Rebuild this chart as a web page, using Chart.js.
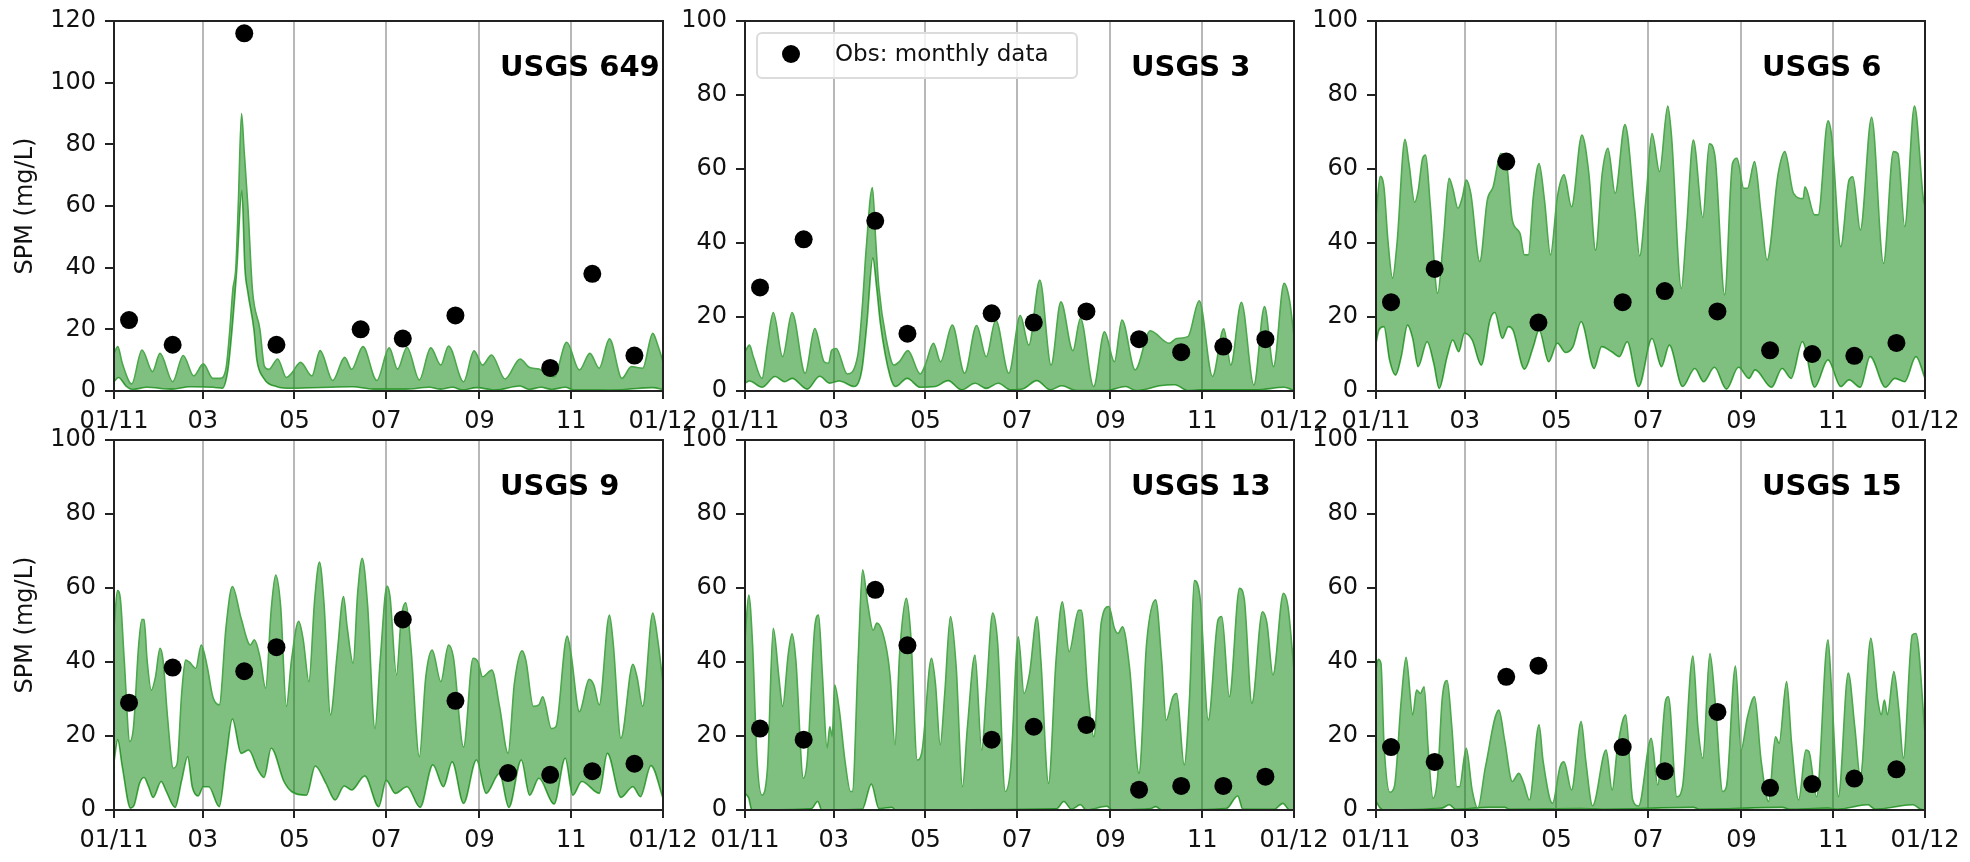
<!DOCTYPE html>
<html>
<head>
<meta charset="utf-8">
<title>SPM at USGS stations</title>
<script src="https://cdn.jsdelivr.net/npm/chart.js@4"></script>
<style>
  html, body { margin: 0; padding: 0; background: #fff; }
  body { position: relative; width: 1970px; height: 862px; overflow: hidden; }
  canvas { position: absolute; }
</style>
</head>
<body>
<script>
// x axis is day of year 2011
const monthDays = [0, 59, 120, 181, 243, 304, 365];
const monthLabels = ['01/11', '03', '05', '07', '09', '11', '01/12'];
const legendLabel = 'Obs: monthly data';

// monthly observations
const obsDays649 = [10, 39, 86.6, 108, 164, 192, 227, 290, 318, 346];
const obsVals649 = [23, 15, 116, 15, 20, 17, 24.5, 7.5, 38, 11.5];
const obsDays = [10, 39, 86.6, 108, 164, 192, 227, 262, 290, 318, 346];
const obsVals3 = [28, 41, 46, 15.5, 21, 18.5, 21.5, 14, 10.5, 12, 14];
const obsVals6 = [24, 33, 62, 18.5, 24, 27, 21.5, 11, 10, 9.5, 13];
const obsDays9 = [10, 39, 86.6, 108, 192, 227, 262, 290, 318, 346];
const obsVals9 = [29, 38.5, 37.5, 44, 51.5, 29.5, 10, 9.5, 10.5, 12.5];
const obsVals13 = [22, 19, 59.5, 44.5, 19, 22.5, 23, 5.5, 6.5, 6.5, 9];
const obsVals15 = [17, 13, 36, 39, 17, 10.5, 26.5, 6, 7, 8.5, 11];

// USGS 649 model envelope
const upDays649 = [0, 2.5, 5.5, 11.8, 18.6, 25.6, 30.6, 39, 46, 53, 59.4, 65.7, 70.7, 74.5, 77, 79, 81, 82.6, 84.8, 86.5, 89, 92, 97, 100, 103, 108.8, 114.6, 118, 124, 131.6, 137, 145.4, 153.4, 158, 165.5, 174.7, 183, 188.5, 194.8, 203, 210.6, 217.3, 222.4, 232.4, 239.4, 245, 251, 260, 270, 276, 282.5, 292.6, 301, 309.4, 316.4, 322.6, 329.4, 337.7, 344, 351.5, 358.2, 361.5, 365];
const upVals649 = [12.2, 14.4, 9, 2.3, 13.3, 6.3, 12.2, 3, 11.5, 4.9, 8.8, 4.1, 4.1, 7.4, 19.8, 32.8, 40, 60, 90, 78, 60, 33, 20, 8, 7, 10.4, 4.4, 5.7, 9.3, 4.9, 13.1, 3.4, 10.9, 7, 14.4, 3.4, 14, 7.1, 14.2, 3.6, 14, 8.4, 14.6, 3, 13, 8.4, 11.7, 3.9, 10.4, 7.7, 7.1, 4.6, 15.8, 6.8, 12.2, 7.4, 16.9, 4.1, 7.9, 7.4, 18.7, 14.9, 9.5];
const lowDays649 = [0, 3, 8, 12.5, 21.8, 38, 50.6, 65.7, 72, 75.7, 78.5, 81.7, 85, 87, 89, 93, 95, 99, 108.3, 118, 158.4, 173.5, 194, 209.8, 217, 225, 232, 241, 253.7, 270, 276, 283.8, 291, 300, 306, 340, 358, 365];
const lowVals649 = [3, 4.4, 1.6, 0.5, 1.2, 0.6, 1.4, 1.2, 0.9, 6.8, 20, 40, 65, 40, 32, 20, 10, 4.5, 1.4, 0.9, 1.4, 0.6, 0.6, 1.2, 0.6, 1.2, 0.3, 1.1, 0.3, 1.6, 0.5, 1.2, 0.5, 1.2, 0.3, 0.5, 1.1, 0.5];

// USGS 3 model envelope
const upDays3 = [0, 3, 5.5, 11.3, 15, 18.8, 25, 31.3, 40, 46.4, 52.6, 55.6, 57.6, 60.6, 68, 75, 78, 80.5, 84.7, 87, 89, 94, 99, 102.8, 108.3, 116.5, 119.8, 125.3, 130, 137.8, 146, 154, 160.4, 166.7, 175.4, 183, 188.7, 196, 203.5, 210, 218, 223, 231.8, 239, 245.6, 250.6, 259.4, 269.4, 282, 287, 294.5, 302, 310.8, 318.3, 323, 330, 338.3, 345.4, 351.4, 358.4, 362, 365];
const upVals3 = [10.6, 12.4, 9.3, 3.4, 12.9, 21.2, 9.3, 21.2, 4.8, 16.9, 7.9, 7.5, 11, 11.5, 4.6, 9.7, 22.8, 38, 55, 40, 28, 13.8, 7, 8, 10.9, 4.6, 7, 12.9, 7.9, 17.8, 4.8, 17.7, 9.3, 19.2, 4.8, 20.4, 12.4, 30, 7, 24.1, 10.9, 19.6, 1.2, 16, 7.9, 19.2, 5.7, 16.3, 12.9, 14.2, 14.7, 24.4, 3.9, 16.8, 7, 24, 1.6, 22.8, 6.6, 29.1, 24.6, 14.7];
const lowDays3 = [0, 3, 11.3, 20, 26.3, 31.3, 41.4, 49.6, 56.4, 62.7, 72.7, 77.7, 81, 85, 87.5, 90, 96.5, 100, 107.8, 116.5, 126.6, 135, 144, 153, 160.4, 168.4, 176.7, 185.5, 194, 203, 210.5, 220.5, 240.6, 253, 260, 277, 285.7, 294.5, 303, 340, 358.4, 365];
const lowVals3 = [2.1, 2.7, 1, 3.9, 2.5, 3.4, 0.5, 4, 2.1, 2.7, 1.2, 5.7, 18, 35.9, 28, 18.3, 3.9, 1.2, 3.4, 1, 1.2, 2.8, 0.3, 2.1, 0.7, 2.1, 0.3, 0.7, 2.8, 0.3, 1.4, 0.1, 0.1, 1.2, 0.1, 1.5, 1.7, 0.1, 0.3, 0.3, 1, 0.1];

// USGS 6 model envelope
const upDays6 = [0, 2.8, 5.3, 7.9, 11, 14, 19.3, 21.9, 25.7, 28, 31, 33, 36, 41, 44.8, 48.6, 51, 54.5, 57.5, 60, 63, 69, 74, 77.9, 83, 86.8, 90.6, 95.7, 98.7, 101.3, 104.6, 108.4, 112, 116, 120.6, 125, 130, 136.9, 141.5, 146, 150.4, 154.2, 159, 165.5, 172, 175.3, 179.6, 183.5, 188.5, 194, 196.5, 203, 206.4, 211, 217.3, 221.6, 225.4, 231.8, 237, 240, 244.5, 247, 251.7, 256, 260, 267.4, 271.8, 277.6, 284, 285.2, 291.6, 294, 300.5, 303, 309, 314.5, 317, 322, 329.5, 337.4, 344, 347, 351.5, 358, 364, 365];
const upVals6 = [47, 58, 55, 40.8, 30.5, 40, 68, 61.5, 51, 54, 62.9, 63.8, 50.7, 26.4, 40.8, 57.5, 54.8, 49.4, 52.5, 57, 53.4, 35, 51.6, 55.2, 64.2, 61.5, 46.2, 42.6, 36.8, 36.8, 52.5, 61.5, 51.6, 36.8, 52.5, 58.4, 49.8, 69.2, 58.8, 38, 58.8, 65.6, 53.4, 72, 49, 36.5, 52.5, 69.6, 59.3, 77, 68.7, 27.7, 43.5, 67.8, 46.9, 66.8, 63.3, 26, 61.5, 62.9, 54.8, 54.8, 62, 48, 35.4, 58.8, 64.7, 53.4, 52, 55.2, 47.6, 47.6, 73, 68.7, 39, 57, 57.9, 43.5, 74, 34.5, 64.7, 64.2, 44.4, 77, 51.6, 50];
const lowDays6 = [0, 2, 5.3, 9, 13, 16.8, 21, 24.4, 28, 34, 38.4, 42, 47.3, 51, 55, 58.8, 63.9, 70, 75.8, 79, 84, 88, 91, 98.7, 104.6, 108.4, 114.8, 120.6, 126, 131, 136.4, 145, 150, 156.7, 161.8, 167, 174.6, 183.5, 189.8, 195, 203.8, 212, 217.8, 225, 233, 241, 248, 252, 263, 270, 276, 283.5, 291.6, 300.5, 309, 314.5, 322, 328.5, 338.7, 345, 351.5, 359, 365];
const lowVals6 = [12.9, 16.5, 17.4, 8.4, 4.3, 9.3, 17.8, 14.2, 6.6, 13.3, 7.5, 0.7, 9.3, 13.8, 10.6, 15.6, 13.8, 7, 19.2, 21.2, 14.2, 17.4, 16.5, 5.9, 12, 16.5, 7.9, 12.9, 10.4, 12, 18.7, 6.1, 12, 10.6, 9.3, 13.3, 1.2, 14.2, 6.6, 12.4, 1.2, 6.1, 2.5, 6.4, 0.5, 6.4, 3.4, 5.7, 1, 6.1, 3.4, 13.3, 1, 8.4, 1.2, 3, 1, 9.3, 1, 3.4, 2.5, 9.3, 3.4];

// USGS 9 model envelope
const upDays9 = [0, 2.3, 4.3, 6.8, 10.5, 13, 16.3, 18.5, 20, 22, 24.8, 27.6, 30.6, 32.6, 35.6, 39.4, 42, 45, 47.6, 50, 54.4, 58, 62, 65.7, 70, 74.5, 78.7, 84.5, 90.7, 93.3, 97, 100.8, 104.5, 107.5, 110.8, 114.6, 118, 122.8, 125.8, 129.6, 133.4, 136.6, 139.6, 143.9, 148.4, 152.6, 155, 159, 162, 165, 168.5, 173.5, 177, 181.5, 183.5, 187.8, 191, 194, 197.4, 203, 207.3, 211.5, 217.3, 222.4, 225.6, 232.4, 238.7, 242, 245, 251.2, 256.3, 262, 266.2, 271.3, 273.8, 278.8, 282.5, 285, 290.8, 293.8, 301.3, 303.8, 309.4, 315.9, 319, 322.6, 329.4, 331.9, 337, 345, 347.7, 351.5, 358.2, 361.5, 365];
const upVals9 = [49, 59.3, 56.8, 40.5, 18.5, 22.5, 44, 51.5, 51.5, 40.5, 32.4, 36, 43.7, 40.5, 25, 11.3, 12.6, 31.5, 40.5, 40, 38.3, 44.6, 38.7, 30.6, 28.4, 49.5, 60.4, 51.8, 44.6, 46, 41.4, 32.9, 54, 63.5, 55, 28, 40.5, 51, 46, 34.7, 56.8, 67, 55.9, 25.7, 42.3, 57.7, 49.5, 39.6, 58.6, 68, 55.9, 22, 40.5, 60.5, 57.7, 36.5, 52, 56, 44, 14.4, 36, 43.2, 34.7, 44.6, 41.4, 17, 41, 40, 36, 37.8, 28, 15.3, 34.2, 43, 40.5, 28, 28.4, 30.6, 22, 22.5, 47, 42.3, 26.6, 35.3, 33.8, 28.4, 52.7, 45, 19.4, 39.4, 36, 28, 53.2, 46, 34.2];
const lowDays9 = [0, 2.5, 5.5, 11, 13.5, 17, 20, 23, 26, 31.4, 34.4, 40.6, 45, 49, 52, 56, 59.4, 63, 70, 74.4, 78.7, 84.5, 89.5, 95.8, 99.8, 104.5, 113, 118, 128, 133.8, 140.9, 147, 153, 158, 166.7, 176, 181, 187, 194.8, 203.5, 212, 219, 224.8, 232.4, 241, 247.4, 256.3, 262.5, 270.8, 276.3, 282.5, 292.6, 300, 305, 311, 322.6, 328, 337, 345, 350, 357, 365];
const lowVals9 = [13, 19, 11.7, 0.5, 1.4, 7.2, 8.8, 6.3, 3.4, 7.7, 5.4, 0.7, 8, 14.4, 6.3, 3.8, 6.3, 6.3, 0.9, 13.5, 24.6, 15.3, 16.2, 10.8, 8.8, 16.7, 7.7, 5, 4, 11.9, 7.2, 2.7, 6.5, 5.4, 9.2, 0.9, 8, 4.5, 6.3, 0.7, 12.2, 6.3, 13, 1.8, 13.5, 4.5, 9.9, 0.7, 13.5, 4, 8.6, 1.6, 14, 4, 7.7, 4.5, 15.3, 3.4, 6.3, 3.6, 12, 3.2];

// USGS 13 model envelope
const upDays13 = [0, 2.5, 5, 8, 11.3, 15, 18.8, 22.5, 25, 28.8, 31.3, 33.8, 38.8, 41.4, 46.4, 48.9, 51.4, 54.6, 56.4, 58, 59.6, 62.7, 66.4, 70.2, 71.4, 75.2, 78.2, 81.5, 85.2, 87.7, 94, 96.5, 99.7, 102.8, 107.3, 110.3, 114.5, 117.8, 124, 126.6, 129.8, 132.8, 136.6, 140.4, 144.6, 147.9, 152.9, 157.4, 160.4, 164.7, 168, 173, 176.7, 181.7, 185.5, 189.2, 194.2, 196.7, 201.8, 206.8, 211, 215.5, 221.8, 223.6, 228, 232, 236.8, 241.9, 245.6, 248, 251, 255.6, 262, 267, 273, 277, 280, 284.5, 287, 292, 295.7, 298.7, 302.7, 308, 314.5, 317, 322, 328.8, 332, 337, 344, 347, 351, 358, 361, 365];
const upVals13 = [46, 58.1, 45, 13.5, 4, 11.7, 49.1, 36, 28, 42.3, 47.6, 40.5, 8.6, 13.5, 49.5, 52.7, 36.9, 16.7, 22.5, 19.8, 33.8, 27, 13.5, 5, 5, 40.5, 64.9, 55.9, 48.6, 50.5, 43.7, 36, 17.6, 42.3, 57.2, 46.8, 13.5, 16.2, 41, 34.2, 17.6, 31.5, 52.3, 38.7, 6.3, 22.5, 41.9, 16.2, 31.5, 53.2, 45, 5, 11.7, 46.8, 31.5, 36.9, 52.3, 40.5, 7.2, 40.5, 56.3, 42.8, 54, 54, 31.5, 19.8, 50.5, 55, 49.1, 47.7, 49.5, 38.7, 9.9, 45, 56.8, 40.5, 24.3, 30.6, 31.5, 12.2, 31.5, 62, 56.8, 24.3, 51.4, 52.3, 30.6, 59.9, 56.8, 28.8, 53.6, 50.5, 36.5, 58.6, 55, 37.8];
const lowDays13 = [0, 2.5, 4.5, 44, 48.4, 51, 78, 84, 89, 97.7, 100, 207, 212, 217, 223, 227, 240.6, 244, 270, 273, 277, 320, 327.6, 331, 352, 357.6, 362, 365];
const lowVals13 = [4.5, 3.2, 0, 0.3, 2.3, 0, 0.2, 7, 0.4, 0.7, 0, 0.3, 2.3, 0.2, 1.4, 0, 1, 0, 0.4, 0.9, 0, 0.4, 3.8, 0.2, 0.2, 1.8, 0, 0];

// USGS 15 model envelope
const upDays15 = [0, 1.5, 3.3, 5.3, 9.2, 12.2, 16.8, 20, 24.4, 27, 29.5, 32, 34.6, 37.9, 41, 44, 47.3, 50.4, 53.7, 55.5, 60, 63.9, 67.7, 72.8, 81.7, 85.5, 90.6, 95, 98.2, 102, 108.4, 111, 117.3, 122.4, 125, 130, 136.4, 139.4, 144, 153, 157, 160.6, 166, 170.7, 174.6, 183, 187.3, 192.4, 194.4, 200, 203.8, 210.7, 214, 217.3, 222, 225.4, 230.5, 233, 239, 242.7, 247, 251.7, 256, 261, 265.6, 268, 273, 276.3, 281, 285.8, 287.8, 292.9, 300.5, 303, 307.4, 314, 318.3, 322, 329, 333.6, 336, 338, 340, 344.3, 347.6, 350.6, 356.5, 359, 365];
const upVals15 = [37.8, 40.7, 39.6, 18, 4.8, 6.3, 29.7, 41.3, 25.7, 32.4, 31.5, 33.3, 17, 3.2, 9, 30, 35, 22.5, 6.3, 6.3, 16.7, 5.4, 0.5, 11.7, 27, 18.9, 7.7, 9.9, 7.2, 2.7, 23, 13.5, 1.8, 11.7, 13, 5.4, 23.9, 13.5, 1.1, 16.2, 5.4, 17, 25.7, 2.7, 1.1, 19.4, 6.8, 29.3, 30.6, 3.6, 6.3, 41.6, 22.5, 14, 42.3, 29.7, 5, 6.3, 38.9, 16.2, 25.2, 30.6, 13.5, 2.3, 19.8, 18, 34.7, 18, 2.7, 16.2, 15.8, 3.6, 46, 31.5, 3.6, 37, 22.5, 9, 46.4, 29.7, 25.7, 29.7, 25.7, 37.4, 27, 14, 47.3, 47.7, 20.7];
const lowDays15 = [0, 2.8, 5, 44, 48.6, 53, 75, 85.5, 89, 136, 150, 211, 215, 270, 275, 300.5, 307, 327, 332, 357, 362, 365];
const lowVals15 = [2.3, 0.5, 0, 0.5, 1.4, 0.2, 0.7, 0.7, 0.2, 0.4, 0.2, 0.7, 0.2, 0.7, 0.2, 0.5, 0.2, 1.4, 0.2, 1.4, 0.2, 0];

const toPoints = (xs, ys) => xs.map((x, i) => ({ x: x, y: ys[i] }));

const panels = [
  { name: 'USGS 649', left: 114, top: 21, yMax: 120, obsX: obsDays649, obsY: obsVals649, upX: upDays649, upY: upVals649, lowX: lowDays649, lowY: lowVals649, yTitle: true },
  { name: 'USGS 3', left: 745, top: 21, yMax: 100, obsX: obsDays, obsY: obsVals3, upX: upDays3, upY: upVals3, lowX: lowDays3, lowY: lowVals3, legend: true },
  { name: 'USGS 6', left: 1376, top: 21, yMax: 100, obsX: obsDays, obsY: obsVals6, upX: upDays6, upY: upVals6, lowX: lowDays6, lowY: lowVals6 },
  { name: 'USGS 9', left: 114, top: 440, yMax: 100, obsX: obsDays9, obsY: obsVals9, upX: upDays9, upY: upVals9, lowX: lowDays9, lowY: lowVals9, yTitle: true },
  { name: 'USGS 13', left: 745, top: 440, yMax: 100, obsX: obsDays, obsY: obsVals13, upX: upDays13, upY: upVals13, lowX: lowDays13, lowY: lowVals13 },
  { name: 'USGS 15', left: 1376, top: 440, yMax: 100, obsX: obsDays, obsY: obsVals15, upX: upDays15, upY: upVals15, lowX: lowDays15, lowY: lowVals15 }
];

const fontFamily = '"DejaVu Sans", sans-serif';
const plotW = 549, plotH = 370, marginL = 110, marginB = 52, marginT = 18, marginR = 46;

// top and right spines, station name and the legend box
const panelNotes = {
  id: 'panelNotes',
  afterDraw(chart, args, opts) {
    const a = chart.chartArea, ctx = chart.ctx;
    ctx.save();
    ctx.strokeStyle = '#222';
    ctx.lineWidth = 2;
    ctx.strokeRect(a.left, a.top, a.right - a.left, a.bottom - a.top);

    ctx.fillStyle = '#000';
    ctx.font = 'bold 29px ' + fontFamily;
    ctx.textAlign = 'left';
    ctx.textBaseline = 'middle';
    ctx.fillText(opts.name, a.left + 386, a.top + 47);

    if (opts.legend) {
      ctx.beginPath();
      ctx.roundRect(a.left + 12, a.top + 12, 320, 45, 5);
      ctx.fillStyle = 'rgba(255,255,255,0.8)';
      ctx.fill();
      ctx.strokeStyle = '#dcdcdc';
      ctx.stroke();
      ctx.beginPath();
      ctx.arc(a.left + 46, a.top + 33, 9, 0, Math.PI * 2);
      ctx.fillStyle = '#000';
      ctx.fill();
      ctx.fillStyle = '#111';
      ctx.font = '23px ' + fontFamily;
      ctx.fillText(chart.data.datasets[0].label, a.left + 90, a.top + 34);
    }
    ctx.restore();
  }
};

panels.forEach(p => {
  const canvas = document.createElement('canvas');
  canvas.width = marginL + plotW + marginR;
  canvas.height = marginT + plotH + marginB;
  canvas.style.left = (p.left - marginL) + 'px';
  canvas.style.top = (p.top - marginT) + 'px';
  document.body.appendChild(canvas);

  new Chart(canvas.getContext('2d'), {
    type: 'scatter',
    plugins: [panelNotes],
    data: {
      datasets: [
        {
          label: legendLabel,
          data: toPoints(p.obsX, p.obsY),
          pointRadius: 9,
          pointBackgroundColor: '#000',
          pointBorderWidth: 0,
          showLine: false
        },
        {
          label: 'upper',
          data: toPoints(p.upX, p.upY),
          showLine: true,
          cubicInterpolationMode: 'monotone',
          pointRadius: 0,
          borderColor: '#4ca84c',
          borderWidth: 1.6,
          backgroundColor: 'rgba(0,128,0,0.5)',
          fill: '+1'
        },
        {
          label: 'lower',
          data: toPoints(p.lowX, p.lowY),
          showLine: true,
          cubicInterpolationMode: 'monotone',
          pointRadius: 0,
          borderColor: '#4ca84c',
          borderWidth: 1.6
        }
      ]
    },
    options: {
      responsive: false,
      animation: false,
      layout: { padding: { top: marginT, right: marginR, left: 0, bottom: 0 } },
      plugins: {
        legend: { display: false },
        tooltip: { enabled: false },
        panelNotes: { name: p.name, legend: p.legend }
      },
      scales: {
        x: {
          type: 'linear',
          min: 0,
          max: 365,
          z: 1, // gridlines sit on top of the green band, as in the source figure
          afterBuildTicks: s => { s.ticks = monthDays.map(v => ({ value: v })); },
          afterFit: s => { s.height = marginB; s.paddingLeft = 0; s.paddingRight = 0; },
          border: { color: '#222', width: 2 },
          grid: { color: 'rgba(176,176,176,0.9)', lineWidth: 2, tickColor: '#222', tickLength: 8 },
          ticks: {
            autoSkip: false,
            maxRotation: 0,
            minRotation: 0,
            padding: 8,
            color: '#111',
            font: { family: fontFamily, size: 24 },
            callback: v => monthLabels[monthDays.indexOf(v)]
          }
        },
        y: {
          min: 0,
          max: p.yMax,
          afterFit: s => { s.width = marginL; s.paddingTop = 0; s.paddingBottom = 0; },
          border: { color: '#222', width: 2 },
          grid: { drawOnChartArea: false, tickColor: '#222', lineWidth: 2, tickLength: 9 },
          ticks: {
            stepSize: 20,
            padding: 9,
            color: '#111',
            font: { family: fontFamily, size: 24 }
          },
          title: {
            display: !!p.yTitle,
            text: 'SPM (mg/L)',
            color: '#111',
            font: { family: fontFamily, size: 24 },
            padding: { top: 7, bottom: 0 }
          }
        }
      }
    }
  });
});
</script>
</body>
</html>
